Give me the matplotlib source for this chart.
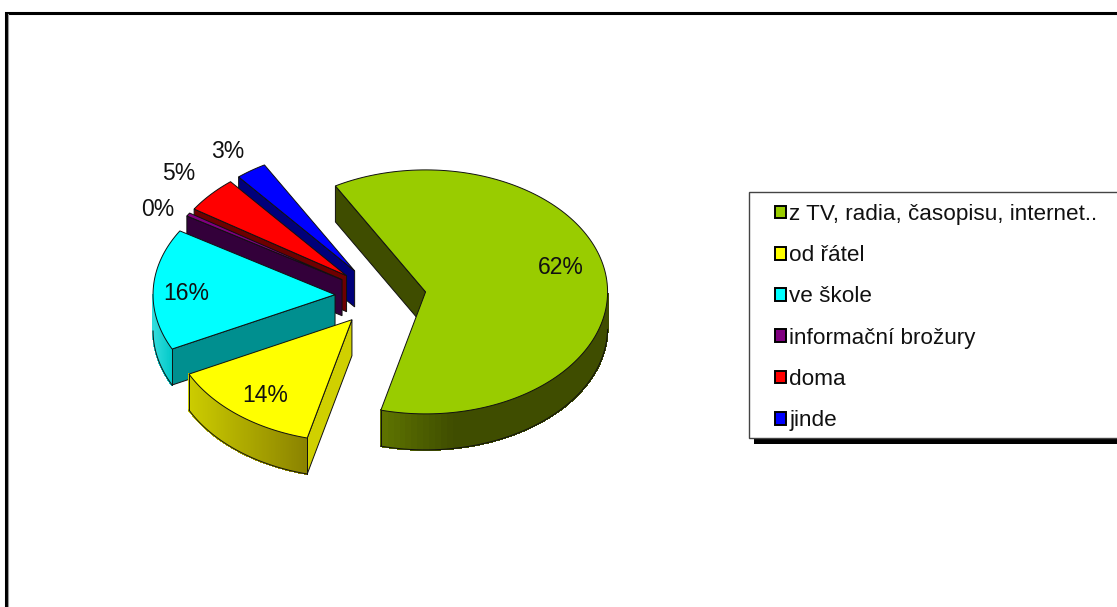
import numpy as np
import matplotlib
matplotlib.use('Agg')
import matplotlib.pyplot as plt
from matplotlib.colors import to_rgb
from matplotlib.patches import Patch, Polygon, Rectangle

plt.rcParams['font.family'] = ['Liberation Sans', 'DejaVu Sans']

categories = ['z TV, radia, časopisu, internet..', 'od řátel', 've škole',
              'informační brožury', 'doma', 'jinde']
values = [62.2, 13.7, 16.1, 0.45, 4.8, 2.75]

top_colors = ['#99cc00', '#ffff00', '#00ffff', '#800080', '#ff0000', '#0000ff']
side_colors = ['#3f4d00', '#d0d000', '#008f8f', '#33003a', '#6e0000', '#00007a']
# outer wall gradient, left end -> right end
rim_left = ['#5f7500', '#cccc00', '#30dcdc', '#400040', '#800000', '#000080']
rim_right = ['#3f4d00', '#8a8200', '#00c8c8', '#400040', '#800000', '#000080']
rim_speed = [3.0, 1.0, 1.0, 1.0, 1.0, 1.0]

label_pos = [(561, 268), (265, 395), (186, 294), (158, 210), (179, 174), (228, 152)]

center = (380.5, 296)
rx, ry = 182, 122
explode = 0.25
depth = 36
start_angle = 119.7


def pt(a, c):
    return c[0] + rx * np.cos(np.radians(a)), c[1] - ry * np.sin(np.radians(a))


def radial_wall(apex, a, color, z):
    x, y = pt(a, apex)
    verts = [apex, (x, y), (x, y + depth), (apex[0], apex[1] + depth)]
    ax.add_patch(Polygon(verts, fc=color, ec='#101010', lw=0.7, zorder=z))


def rim_wall(apex, a0, a1, i, z):
    ang = np.linspace(a0, a1, 120)
    ang = ang[np.sin(np.radians(ang)) < 0]
    if len(ang) < 2:
        return
    xs, ys = pt(ang, apex)
    lo, hi = xs.min(), xs.max()
    c1, c2 = np.array(to_rgb(rim_left[i])), np.array(to_rgb(rim_right[i]))
    for k in range(len(ang) - 1):
        f = min(1, (xs[k] - lo) / (hi - lo) * rim_speed[i])
        col = c1 + (c2 - c1) * f
        quad = [(xs[k], ys[k]), (xs[k+1], ys[k+1]), (xs[k+1], ys[k+1] + depth), (xs[k], ys[k] + depth)]
        ax.add_patch(Polygon(quad, fc=col, ec=col, lw=0.8, antialiased=False, zorder=z))
    ax.plot(xs, ys + depth, color='#101010', lw=0.7, zorder=z + 0.1)
    # vertical line only at real corners, not where the rim turns out of sight
    for k, a in ((0, a0), (-1, a1)):
        if ang[k] == a:
            ax.plot([xs[k], xs[k]], [ys[k], ys[k] + depth], color='#101010', lw=0.7, zorder=z + 0.1)


fig = plt.figure(figsize=(11.17, 6.07), dpi=100)
ax = fig.add_axes([0, 0, 1, 1])
ax.set_xlim(0, 1117)
ax.set_ylim(607, 0)
ax.axis('off')

# chart border, runs off the right and bottom
ax.add_patch(Rectangle((5.5, 12.5), 1200, 700, fc='white', ec='black', lw=2.2, zorder=0))
ax.plot([8, 8], [14, 607], color='#999999', lw=0.8, zorder=0.5)

sweep = np.array(values) / sum(values) * 360
a0s = start_angle - np.concatenate([[0], np.cumsum(sweep)[:-1]])
a1s = a0s - sweep

# back slices first, yellow last
draw_order = [5, 4, 3, 0, 2, 1]
for z, i in enumerate(draw_order):
    base = 2 + z * 2
    a0, a1 = a0s[i], a1s[i]
    mid = (a0 + a1) / 2
    apex = (center[0] + explode * rx * np.cos(np.radians(mid)),
            center[1] - explode * ry * np.sin(np.radians(mid)))
    if np.cos(np.radians(a0)) < 0:
        radial_wall(apex, a0, side_colors[i], base)
    if np.cos(np.radians(a1)) > 0:
        radial_wall(apex, a1, side_colors[i], base)
    rim_wall(apex, a0, a1, i, base)
    ang = np.linspace(a0, a1, 150)
    xs, ys = pt(ang, apex)
    verts = [apex] + list(zip(xs, ys))
    ax.add_patch(Polygon(verts, fc=top_colors[i], ec='#101010', lw=0.7, zorder=base + 0.5))

for v, p in zip(values, label_pos):
    ax.text(p[0], p[1], f'{round(v)}%', fontsize=16.5, ha='center', va='center', color='#111111', zorder=30)

# legend box, cut by the right edge
ax.add_patch(Rectangle((754, 197), 500, 247, fc='black', ec='none', zorder=20))
ax.add_patch(Rectangle((749, 192), 500, 246, fc='white', ec='#444444', lw=1, zorder=21))
handles = [Patch(fc=c, ec='black', lw=1.4) for c in top_colors]
leg = ax.legend(handles, categories, loc='upper left', bbox_to_anchor=(775 / 1117, 1 - 204 / 607),
                frameon=False, fontsize=16.2, handlelength=0.48, handleheight=0.48, handletextpad=0.15,
                labelspacing=0.9, borderpad=0, borderaxespad=0, labelcolor='#111111')
leg.set_zorder(25)

fig.savefig('out.png', dpi=100)
